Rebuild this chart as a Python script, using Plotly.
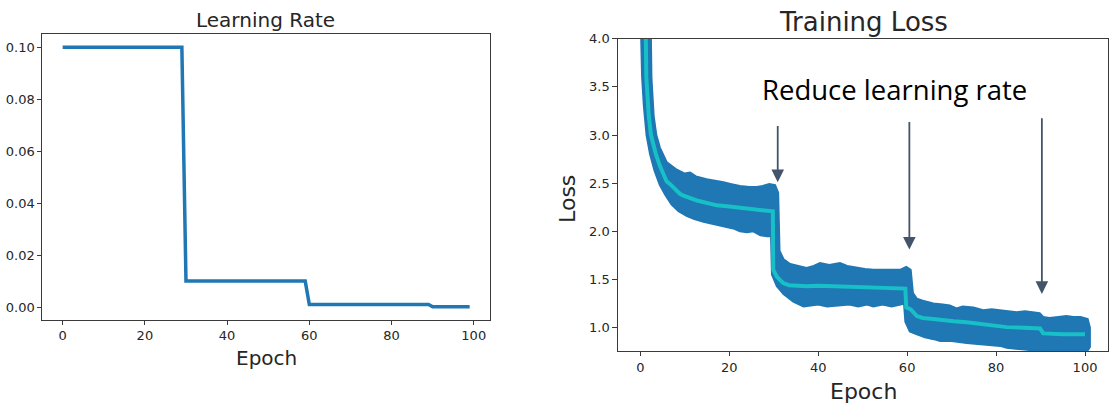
import plotly.graph_objects as go

# ---------------- data ----------------
# Learning-rate schedule (step decay)
lr_epoch = [0, 29, 30, 59, 60, 89, 90, 99]
lr_value = [0.1, 0.1, 0.01, 0.01, 0.001, 0.001, 0.0001, 0.0001]

# Training loss: upper edge of the per-iteration scatter band
band_upper_epoch = [2.3, 2.4, 2.5, 3.0, 3.6, 4.4, 5.9, 8.2, 10.0, 11.2, 12.5, 14.9, 16.5,
                    18.7, 20.5, 22.4, 24.5, 26.2, 27.5, 29.0, 30.3, 31.0, 31.3, 32.2, 33.7, 35.5,
                    37.4, 39.0, 40.4, 42.5, 44.9, 46.5, 48.7, 50.5, 52.4, 54.5, 56.2, 58.4, 59.8,
                    60.8, 61.3, 62.2, 63.5, 65.9, 68.0, 69.6, 71.1, 72.5, 74.9, 77.1, 79.0, 80.9,
                    82.4, 84.6, 86.5, 88.4, 89.8, 90.6, 92.0, 94.0, 95.8, 97.4, 99.0, 100.6, 101.1]
band_upper_loss = [4.30, 4.00, 3.60, 3.20, 3.00, 2.87, 2.72, 2.64, 2.60, 2.61, 2.57, 2.54, 2.53,
                   2.51, 2.49, 2.47, 2.46, 2.46, 2.47, 2.49, 2.48, 2.40, 1.80, 1.71, 1.66, 1.64,
                   1.62, 1.64, 1.67, 1.65, 1.67, 1.64, 1.62, 1.61, 1.60, 1.60, 1.60, 1.60, 1.63,
                   1.60, 1.36, 1.30, 1.28, 1.25, 1.24, 1.23, 1.20, 1.22, 1.21, 1.18, 1.19, 1.18,
                   1.17, 1.16, 1.17, 1.16, 1.15, 1.11, 1.10, 1.11, 1.12, 1.11, 1.11, 1.09, 1.00]

# Training loss: lower edge of the scatter band
band_lower_epoch = [0.0, 0.15, 0.4, 0.8, 1.4, 2.2, 3.2, 4.4, 5.6, 7.0, 8.6, 10.4, 12.0, 14.2,
                    16.0, 17.9, 20.9, 22.4, 24.0, 25.4, 27.0, 28.5, 29.4, 29.6, 30.7, 32.2, 34.4,
                    36.7, 38.5, 40.0, 42.0, 44.9, 47.0, 49.0, 51.0, 52.4, 54.5, 56.5, 58.5, 59.3,
                    59.6, 60.6, 62.2, 64.0, 66.0, 67.4, 70.0, 73.4, 74.9, 78.0, 80.9, 82.4, 84.6,
                    87.0, 89.9, 90.5, 95.0, 100.0, 101.1]
band_lower_loss = [4.40, 4.00, 3.60, 3.30, 3.00, 2.80, 2.63, 2.48, 2.38, 2.28, 2.21, 2.16, 2.13, 2.10,
                   2.08, 2.06, 2.03, 2.00, 1.99, 2.00, 1.96, 1.95, 1.95, 1.55, 1.43, 1.35, 1.27,
                   1.22, 1.23, 1.24, 1.22, 1.23, 1.24, 1.22, 1.24, 1.22, 1.24, 1.22, 1.24, 1.25,
                   1.06, 0.96, 0.93, 0.90, 0.88, 0.86, 0.86, 0.84, 0.83, 0.82, 0.81, 0.79, 0.78,
                   0.77, 0.75, 0.74, 0.72, 0.72, 0.80]

# Training loss: running mean (cyan line)
mean_epoch = [1.1, 1.25, 1.35, 1.9, 2.4, 3.5, 4.4, 5.9, 6.7, 8.9, 9.7, 12.7, 15.0, 17.2, 19.5,
              22.4, 25.0, 27.7, 29.8, 29.9, 30.7, 31.5, 32.2, 33.5, 35.0, 37.5, 40.0, 42.5, 45.0,
              47.5, 50.0, 52.5, 55.0, 57.5, 59.6, 59.8, 60.8, 62.2, 63.5, 65.9, 68.0, 70.5, 73.4,
              75.0, 78.0, 80.9, 82.4, 85.0, 87.5, 89.9, 90.6, 92.0, 95.0, 97.5, 100.0]
mean_loss = [4.50, 4.00, 3.60, 3.20, 3.00, 2.80, 2.68, 2.52, 2.49, 2.39, 2.37, 2.32, 2.29, 2.27,
             2.26, 2.245, 2.23, 2.217, 2.207, 1.60, 1.53, 1.49, 1.46, 1.44, 1.435, 1.43, 1.435,
             1.43, 1.425, 1.425, 1.42, 1.415, 1.41, 1.41, 1.405, 1.21, 1.19, 1.12, 1.10, 1.09,
             1.075, 1.065, 1.055, 1.045, 1.03, 1.01, 1.005, 1.0, 0.995, 0.99, 0.94, 0.935, 0.93,
             0.93, 0.93]

# "Reduce learning rate" arrows
arrow_epoch = [30.9, 60.5, 90.3]
arrow_top = [3.11, 3.15, 3.19]
arrow_tip = [2.51, 1.81, 1.35]

lr_yticks = [0.0, 0.02, 0.04, 0.06, 0.08, 0.10]
loss_yticks = [1.0, 1.5, 2.0, 2.5, 3.0, 3.5, 4.0]
epoch_ticks = [0, 20, 40, 60, 80, 100]

# ---------------- figure ----------------
W, H = 1113, 408
BLUE = "#1f77b4"
CYAN = "#17c0c6"
FRAME = "#3a3a3a"
TXT = "#262626"
FONT = "DejaVu Sans"

fig = go.Figure()

fig.add_trace(go.Scatter(x=lr_epoch, y=lr_value, mode="lines",
                         line=dict(color=BLUE, width=3.5),
                         xaxis="x", yaxis="y", showlegend=False))

poly_x = band_upper_epoch + band_lower_epoch[::-1]
poly_y = band_upper_loss + band_lower_loss[::-1]
fig.add_trace(go.Scatter(x=poly_x, y=poly_y, mode="lines", fill="toself",
                         fillcolor=BLUE, line=dict(color=BLUE, width=2),
                         xaxis="x2", yaxis="y2", showlegend=False))
fig.add_trace(go.Scatter(x=mean_epoch, y=mean_loss, mode="lines",
                         line=dict(color=CYAN, width=4),
                         xaxis="x2", yaxis="y2", showlegend=False))


def px_x(p):
    return p / W


def px_y(p):
    return 1 - p / H


axis_common = dict(showline=True, mirror=True, linecolor=FRAME, linewidth=1,
                   ticks="outside", ticklen=4, tickcolor=FRAME, tickwidth=1,
                   showgrid=False, zeroline=False,
                   tickfont=dict(family=FONT, size=13, color=TXT))

fig.update_layout(
    width=W, height=H,
    margin=dict(l=0, r=0, t=0, b=0),
    paper_bgcolor="white", plot_bgcolor="white",
    showlegend=False,
    xaxis=dict(domain=[px_x(42.3), px_x(490)], range=[-4.95, 103.95],
               tickvals=epoch_ticks, anchor="y", **axis_common),
    yaxis=dict(domain=[px_y(318.3), px_y(27.7)], range=[-0.0049, 0.104995],
               tickvals=lr_yticks, tickformat=".2f", anchor="x", **axis_common),
    xaxis2=dict(domain=[px_x(618.3), px_x(1107.7)], range=[-4.95, 105.1],
                tickvals=epoch_ticks, anchor="y2", **axis_common),
    yaxis2=dict(domain=[px_y(350.5), px_y(32.3)], range=[0.752, 4.0],
                tickvals=loss_yticks, tickformat=".1f", anchor="x2", **axis_common),
)
fig.layout.yaxis2.ticklen = 5

annos = [
    dict(text="Learning Rate", x=px_x(265.7), y=px_y(13.3), size=20, font=FONT, angle=0),
    dict(text="Epoch", x=px_x(266), y=px_y(356.7), size=20, font=FONT, angle=0),
    dict(text="Training Loss", x=px_x(863.3), y=px_y(15), size=26, font=FONT, angle=0),
    dict(text="Epoch", x=px_x(863), y=px_y(391.7), size=22, font=FONT, angle=0),
    dict(text="Loss", x=px_x(567.3), y=px_y(195), size=22, font=FONT, angle=-90),
]
for a in annos:
    fig.add_annotation(text=a["text"], x=a["x"], y=a["y"], xref="paper", yref="paper",
                       xanchor="center", yanchor="middle", showarrow=False,
                       textangle=a["angle"],
                       font=dict(family=a["font"], size=a["size"], color=TXT))

fig.add_annotation(text="Reduce learning rate", x=px_x(894), y=px_y(84),
                   xref="paper", yref="paper", xanchor="center", yanchor="middle",
                   showarrow=False, font=dict(family="Open Sans", size=27.5, color="black"))

for ex, top, tip in zip(arrow_epoch, arrow_top, arrow_tip):
    fig.add_annotation(x=ex, y=tip, ax=ex, ay=top, xref="x2", yref="y2",
                       axref="x2", ayref="y2", text="", showarrow=True,
                       arrowhead=2, arrowsize=1.4, arrowwidth=1.8, arrowcolor="#44546a")

fig.write_html("out.html")
